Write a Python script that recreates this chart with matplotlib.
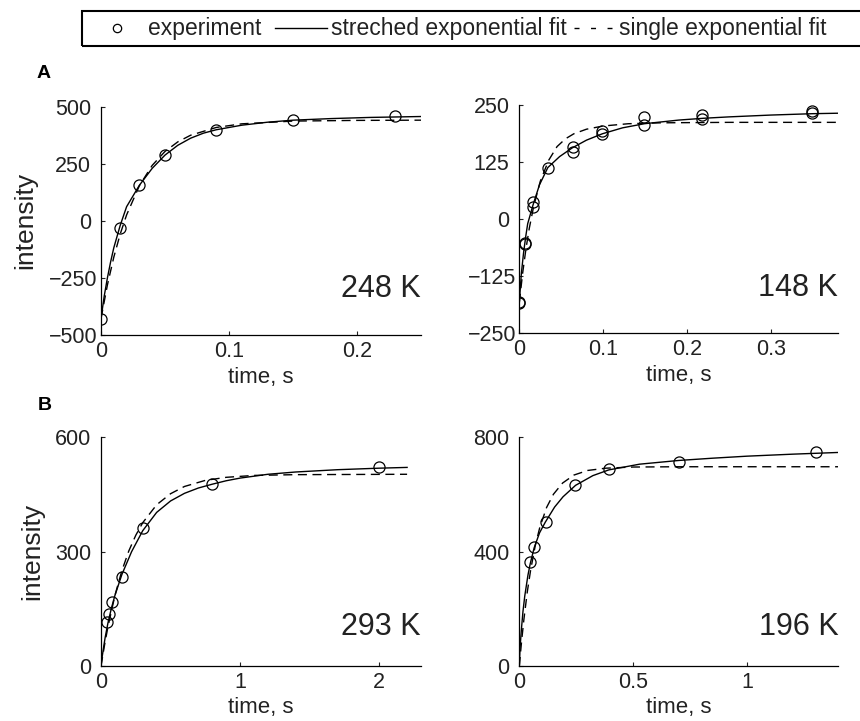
import numpy as np
import matplotlib
matplotlib.use('Agg')
import matplotlib.pyplot as plt
from matplotlib.lines import Line2D
from matplotlib.patches import Rectangle
from matplotlib.transforms import ScaledTranslation

plt.rcParams['font.family'] = ['Liberation Sans', 'DejaVu Sans']

#DATA

#panel A, 248 K
t_exp_248 = [0, 0.015, 0.030, 0.050, 0.090, 0.150, 0.230]
y_exp_248 = [-428, -31, 156, 287, 397, 442, 459]
t_str_248 = [0, 0.0025, 0.005, 0.0075, 0.010, 0.015, 0.020, 0.030, 0.040, 0.050,
             0.060, 0.070, 0.080, 0.090, 0.110, 0.130, 0.150, 0.180, 0.210, 0.250]
y_str_248 = [-428, -330, -250, -180, -118, -20, 62, 156, 230, 288,
             331, 362, 384, 399, 419, 432, 441, 448, 453, 457]
t_sgl_248 = [0, 0.005, 0.010, 0.015, 0.020, 0.030, 0.040, 0.050, 0.060, 0.070,
             0.090, 0.110, 0.150, 0.200, 0.250]
y_sgl_248 = [-428, -281, -159, -58, 26, 154, 243, 304, 346, 375,
             409, 425, 437, 440, 441]

#panel A, 148 K (duplicate measurements)
t_exp_148 = [0, 0, 0.0066, 0.0066, 0.0165, 0.0165, 0.034, 0.064, 0.064,
             0.099, 0.099, 0.149, 0.149, 0.218, 0.218, 0.349, 0.349]
y_exp_148 = [-183, -181, -54, -52, 37, 27, 113, 157, 147,
             194, 186, 224, 206, 229, 219, 237, 233]
t_str_148 = [0, 0.0025, 0.005, 0.0075, 0.010, 0.0165, 0.024, 0.034, 0.048, 0.063,
             0.080, 0.099, 0.123, 0.149, 0.19, 0.22, 0.25, 0.30, 0.35, 0.38]
y_str_148 = [-182, -118, -75, -40, -10, 32, 75, 113, 137, 156,
             173, 187, 200, 209, 217, 221, 224, 228, 231, 232]
t_sgl_148 = [0, 0.004, 0.008, 0.012, 0.017, 0.025, 0.035, 0.045, 0.055, 0.065,
             0.08, 0.10, 0.13, 0.17, 0.25, 0.38]
y_sgl_148 = [-183, -118, -64, -19, 27, 83, 129, 159, 176, 187,
             197, 204, 209, 211, 212, 212]

#panel B, 293 K
t_exp_293 = [0.045, 0.06, 0.08, 0.15, 0.30, 0.80, 2.0]
y_exp_293 = [115, 136, 167, 234, 361, 477, 523]
t_str_293 = [0, 0.01, 0.02, 0.03, 0.05, 0.075, 0.1, 0.15, 0.22, 0.3, 0.4, 0.5, 0.6,
             0.7, 0.8, 0.9, 1.0, 1.2, 1.4, 1.7, 2.0, 2.2]
y_str_293 = [0, 28, 52, 75, 113, 152, 185, 240, 300, 355, 403, 433, 453,
             467, 477, 486, 493, 503, 509, 515, 519, 521]
t_sgl_293 = [0, 0.025, 0.05, 0.1, 0.15, 0.2, 0.25, 0.3, 0.4, 0.5, 0.6, 0.75, 0.9, 1.1, 1.4, 2.2]
y_sgl_293 = [0, 54, 103, 185, 250, 302, 343, 376, 423, 452, 471, 487, 495, 500, 502, 503]

#panel B, 196 K
t_exp_196 = [0.048, 0.065, 0.115, 0.245, 0.395, 0.70, 1.30]
y_exp_196 = [365, 417, 504, 632, 689, 715, 750]
t_str_196 = [0, 0.003, 0.009, 0.016, 0.024, 0.038, 0.048, 0.065, 0.089, 0.114, 0.155,
             0.192, 0.247, 0.323, 0.393, 0.528, 0.70, 0.85, 1.0, 1.2, 1.4]
y_str_196 = [0, 60, 126, 190, 245, 318, 358, 413, 466, 503, 556,
             592, 632, 666, 686, 706, 719, 727, 734, 741, 747]
t_sgl_196 = [0, 0.01, 0.02, 0.035, 0.05, 0.07, 0.09, 0.12, 0.15, 0.19, 0.24, 0.3, 0.38, 0.5, 0.7, 1.4]
y_sgl_196 = [0, 86, 162, 259, 337, 421, 485, 555, 601, 640, 668, 684, 692, 696, 697, 697]

temps = ['248 K', '148 K', '293 K', '196 K']
xlims = [(0, 0.25), (0, 0.38), (0, 2.3), (0, 1.4)]
ylims = [(-500, 500), (-250, 250), (0, 600), (0, 800)]
xticks = [[0, 0.1, 0.2], [0, 0.1, 0.2, 0.3], [0, 1, 2], [0, 0.5, 1]]
xticklabels = [['0', '0.1', '0.2'], ['0', '0.1', '0.2', '0.3'], ['0', '1', '2'], ['0', '0.5', '1']]
yticks = [[-500, -250, 0, 250, 500], [-250, -125, 0, 125, 250], [0, 300, 600], [0, 400, 800]]
yticklabels = [['\u2212500', '\u2212250', '0', '250', '500'],
               ['\u2212250', '\u2212125', '0', '125', '250'],
               ['0', '300', '600'], ['0', '400', '800']]
legend_labels = ['experiment', 'streched exponential fit', 'single exponential fit']

experiments = [(t_exp_248, y_exp_248), (t_exp_148, y_exp_148), (t_exp_293, y_exp_293), (t_exp_196, y_exp_196)]
stretched = [(t_str_248, y_str_248), (t_str_148, y_str_148), (t_str_293, y_str_293), (t_str_196, y_str_196)]
single = [(t_sgl_248, y_sgl_248), (t_sgl_148, y_sgl_148), (t_sgl_293, y_sgl_293), (t_sgl_196, y_sgl_196)]

#LAYOUT (pixels of an 860x721 canvas)
W, H = 860, 721
def rect(x0, y_top, x1, y_bot):
    return [x0 / W, 1 - y_bot / H, (x1 - x0) / W, (y_bot - y_top) / H]

def fx(px):
    return px / W

def fy(py):
    return 1 - py / H

rects = [rect(101, 106.7, 421, 335), rect(519.3, 105, 838.3, 333.3),
         rect(101, 437.3, 421, 666), rect(519.3, 437.3, 838.3, 666)]
ylabel_x = [25, None, 32, None]

dash = (0, (6.5, 4))
ink = '#222222'

fig = plt.figure(figsize=(8.6, 7.21), dpi=100)
shift = ScaledTranslation(6.5 / 100, 0, fig.dpi_scale_trans)

for i in range(4):
    ax = fig.add_axes(rects[i])
    ax.plot(*stretched[i], color='black', lw=1.0, zorder=2)
    ax.plot(*single[i], color='black', lw=1.0, linestyle=dash, zorder=2)
    ax.plot(*experiments[i], linestyle='none', marker='o', ms=8, mfc='none',
            mec='black', mew=0.9, zorder=3)
    ax.set_xlim(*xlims[i])
    ax.set_ylim(*ylims[i])
    ax.set_xticks(xticks[i])
    ax.set_xticklabels(xticklabels[i])
    ax.set_yticks(yticks[i])
    ax.set_yticklabels(yticklabels[i])
    for side in ['top', 'right']:
        ax.spines[side].set_visible(False)
    for side in ['left', 'bottom']:
        ax.spines[side].set_linewidth(0.9)
    ax.tick_params(direction='in', length=3, width=0.8, labelsize=15.5, colors=ink)
    ax.tick_params(axis='x', pad=4)
    ax.tick_params(axis='y', pad=7)
    #negative labels sit a bit closer to the axis in the original
    for lab in ax.get_yticklabels():
        if lab.get_text().startswith('\u2212'):
            lab.set_transform(lab.get_transform() + shift)
    ax_h = rects[i][3] * H
    ax_w = rects[i][2] * W
    ax.set_xlabel('time, s', fontsize=16, color=ink, va='center')
    ax.xaxis.set_label_coords(0.5, -42 / ax_h)
    if ylabel_x[i] is not None:
        ax.set_ylabel('intensity', fontsize=19, color=ink, va='center')
        ax.yaxis.set_label_coords((ylabel_x[i] - rects[i][0] * W) / ax_w, 0.5)
    ax.text(1.0, 0.2 if i < 2 else 0.17, temps[i], transform=ax.transAxes,
            ha='right', va='center', fontsize=22, color=ink)
    ax.patch.set_alpha(0)

fig.text(fx(43.5), fy(73), 'A', fontsize=14, fontweight='bold', ha='center', va='center')
fig.text(fx(45), fy(406), 'B', fontsize=14, fontweight='bold', ha='center', va='center')

#LEGEND (drawn by hand, the box runs off the right edge)
ly = fy(28)
fig.add_artist(Rectangle((fx(81.7), fy(46)), fx(880) - fx(81.7), fy(11) - fy(46),
                         transform=fig.transFigure, fill=False, edgecolor='black',
                         lw=1.5, clip_on=False))
fig.add_artist(Line2D([fx(116.7)], [ly], transform=fig.transFigure, linestyle='none',
                      marker='o', ms=6, mfc='none', mec='black', mew=0.9))
fig.text(fx(148), ly, legend_labels[0], fontsize=16.5, va='center', ha='left', color=ink)
fig.add_artist(Line2D([fx(275), fx(327)], [ly, ly], transform=fig.transFigure,
                      color='black', lw=1.0))
mid = fig.text(fx(331), ly, legend_labels[1], fontsize=16.5, va='center', ha='left', color=ink)
renderer = fig.canvas.get_renderer()
mid_end = mid.get_window_extent(renderer).x1
d0 = mid_end + 7
fig.add_artist(Line2D([fx(d0), fx(d0 + 38)], [ly, ly], transform=fig.transFigure,
                      color='black', lw=1.0, linestyle=(0, (3.6, 8.3))))
fig.text(fx(d0 + 45), ly, legend_labels[2], fontsize=16.5, va='center', ha='left', color=ink)

fig.savefig('out.png', dpi=100)
